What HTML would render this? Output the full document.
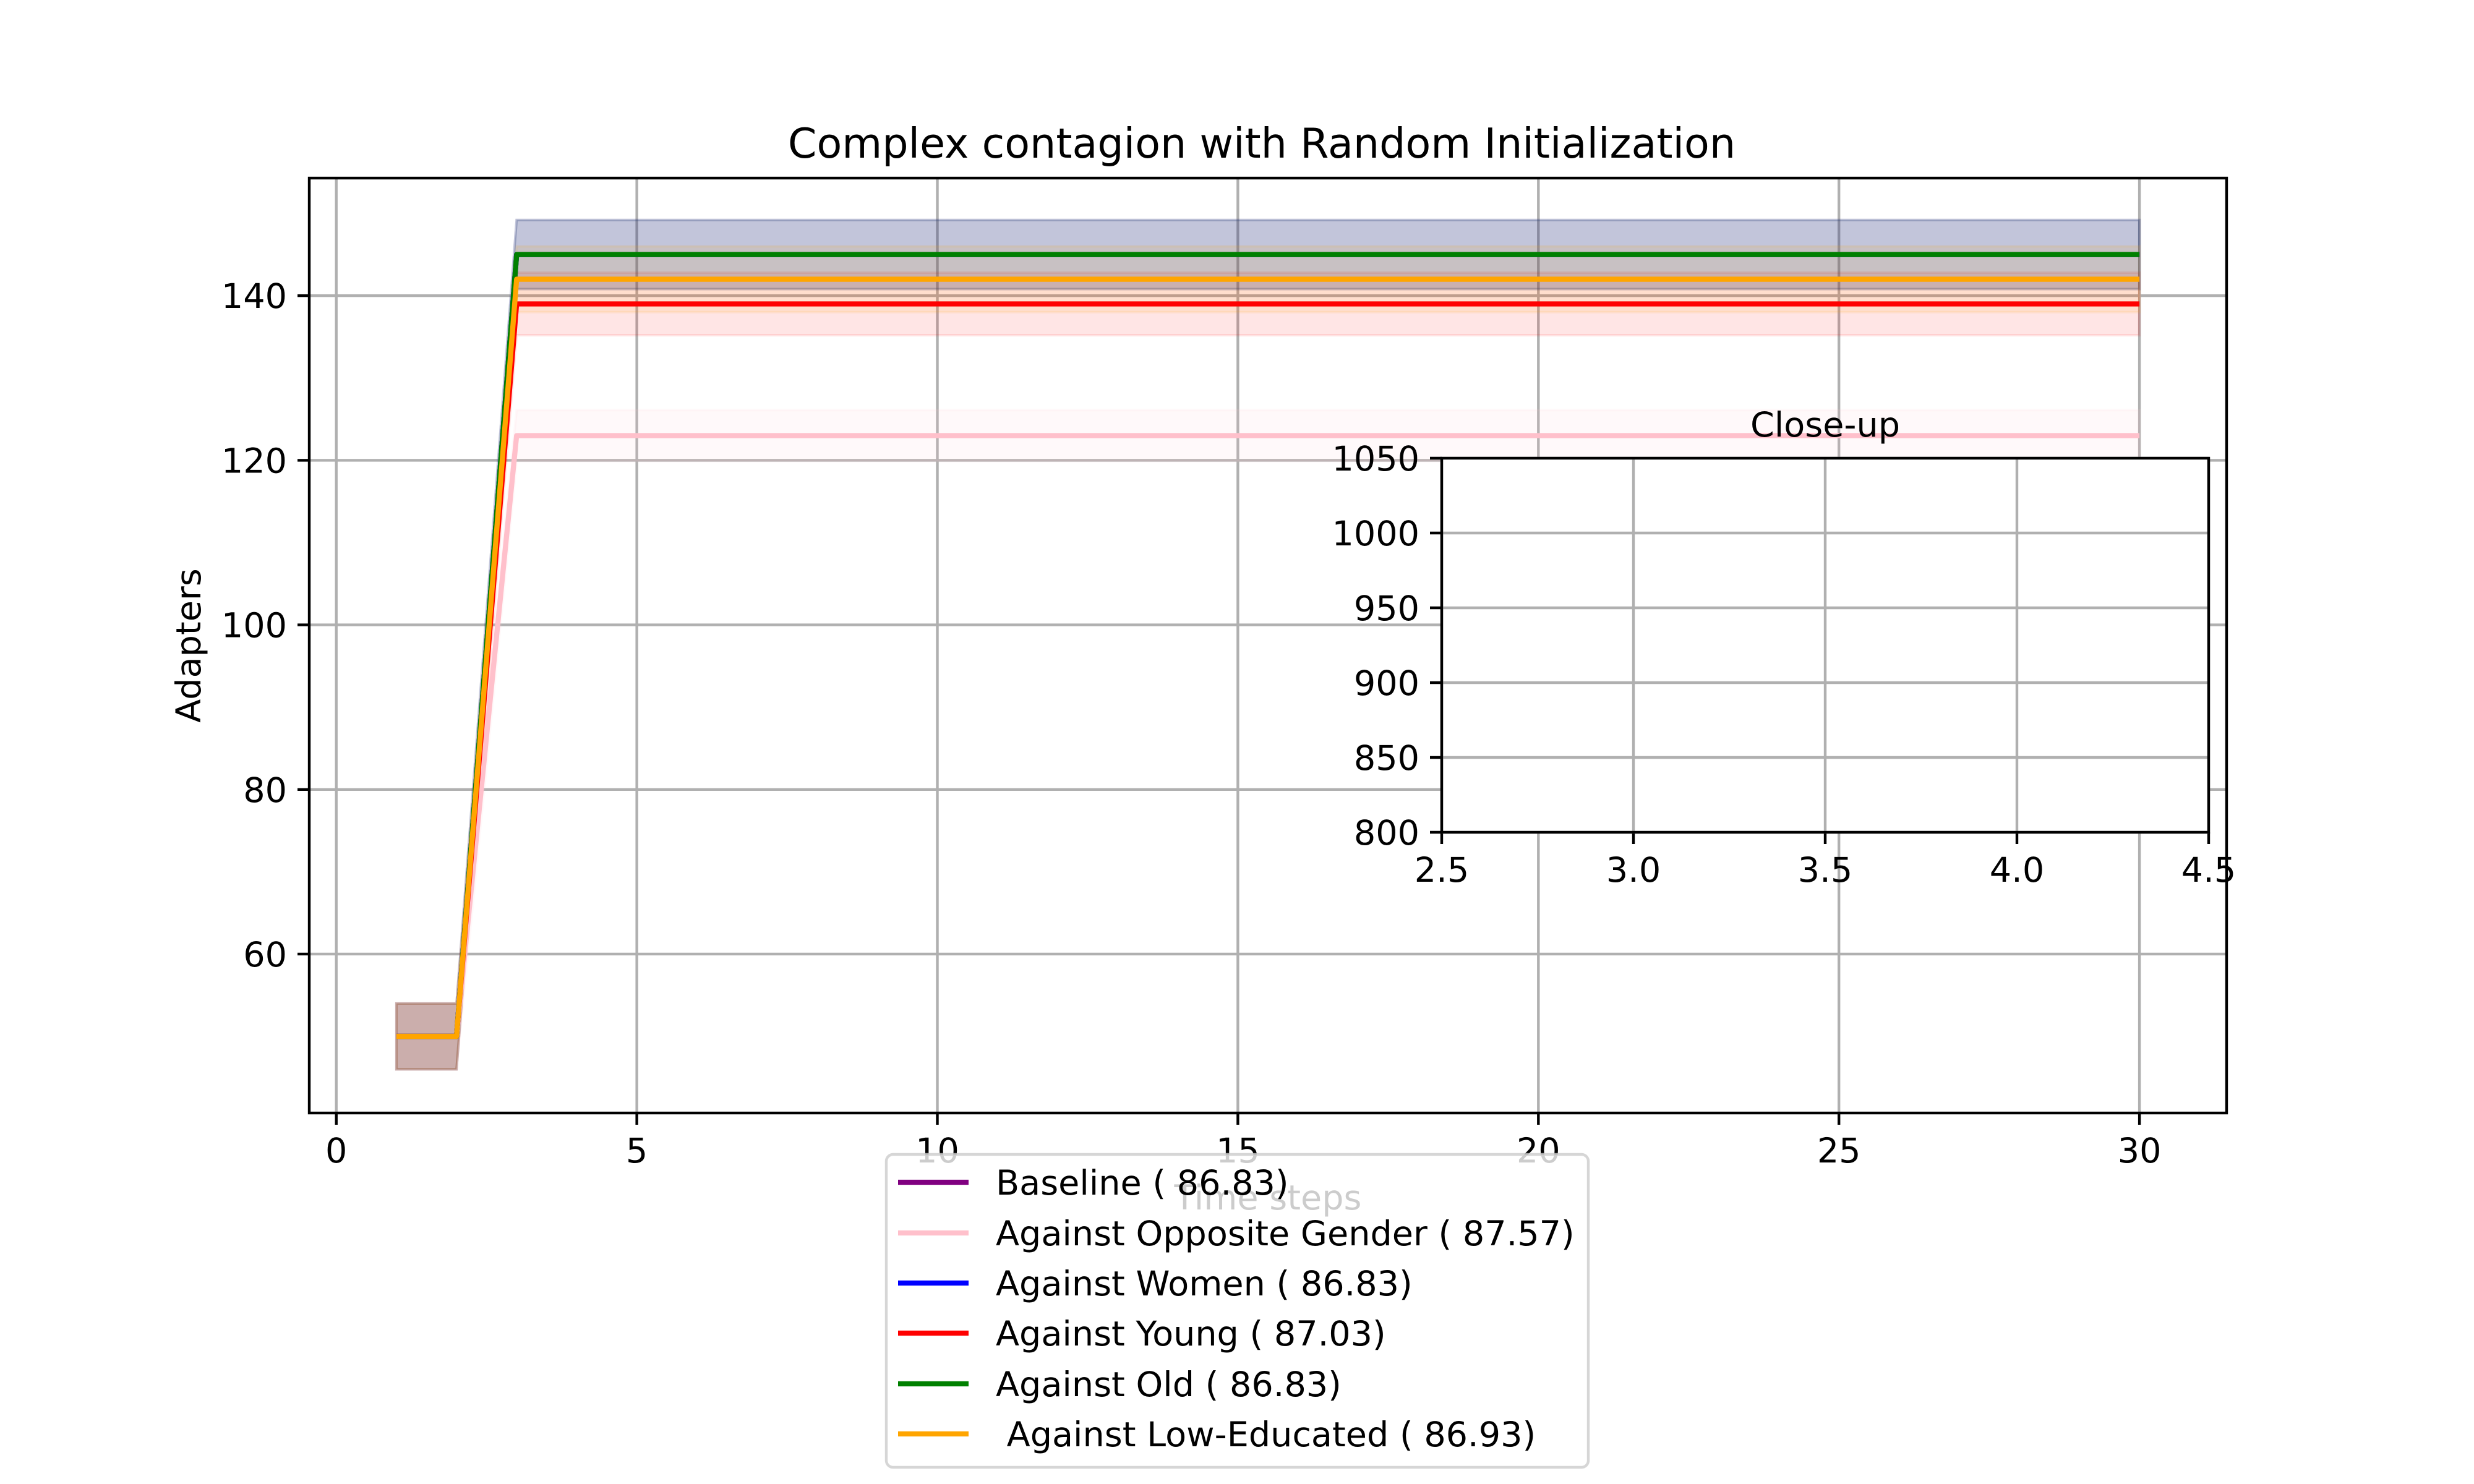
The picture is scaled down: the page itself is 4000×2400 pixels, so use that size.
<!DOCTYPE html>
<html><head><meta charset="utf-8"><style>
html,body{margin:0;padding:0;background:#fff}
svg{display:block;font-family:"DejaVu Sans","Liberation Sans",sans-serif}
</style></head><body>
<svg id="chart" width="4000" height="2400" viewBox="0 0 4000 2400" xmlns="http://www.w3.org/2000/svg">
<rect width="4000" height="2400" fill="#fff"/>
<text x="2040" y="255" font-size="66.7" text-anchor="middle">Complex contagion with Random Initialization</text>
<text x="0" y="0" font-size="55.6" text-anchor="middle" transform="translate(324,1044) rotate(-90)">Adapters</text>
<text x="2050" y="1956" font-size="55.6" text-anchor="middle">Time steps</text>
<g id="main"></g>
<g id="inset"></g>
<g id="legend"></g>
</svg>
<script>
const steps = [1,2,3,4,5,6,7,8,9,10,11,12,13,14,15,16,17,18,19,20,21,22,23,24,25,26,27,28,29,30];
const seriesNames = ["Baseline ( 86.83)","Against Opposite Gender ( 87.57)","Against Women ( 86.83)","Against Young ( 87.03)","Against Old ( 86.83)","\u00a0Against Low-Educated ( 86.93)"];
const seriesColors = ["#800080","#ffc0cb","#0000ff","#ff0000","#008000","#ffa500"];
const baselineMean = [50,50,145,145,145,145,145,145,145,145,145,145,145,145,145,145,145,145,145,145,145,145,145,145,145,145,145,145,145,145];
const oppositeMean = [50,50,123,123,123,123,123,123,123,123,123,123,123,123,123,123,123,123,123,123,123,123,123,123,123,123,123,123,123,123];
const womenMean = [50,50,145,145,145,145,145,145,145,145,145,145,145,145,145,145,145,145,145,145,145,145,145,145,145,145,145,145,145,145];
const youngMean = [50,50,139,139,139,139,139,139,139,139,139,139,139,139,139,139,139,139,139,139,139,139,139,139,139,139,139,139,139,139];
const oldMean = [50,50,145,145,145,145,145,145,145,145,145,145,145,145,145,145,145,145,145,145,145,145,145,145,145,145,145,145,145,145];
const lowEduMean = [50,50,142,142,142,142,142,142,142,142,142,142,142,142,142,142,142,142,142,142,142,142,142,142,142,142,142,142,142,142];
const baselineSd = [4,4,4.2,4.2,4.2,4.2,4.2,4.2,4.2,4.2,4.2,4.2,4.2,4.2,4.2,4.2,4.2,4.2,4.2,4.2,4.2,4.2,4.2,4.2,4.2,4.2,4.2,4.2,4.2,4.2];
const oppositeSd = [4,4,3.1,3.1,3.1,3.1,3.1,3.1,3.1,3.1,3.1,3.1,3.1,3.1,3.1,3.1,3.1,3.1,3.1,3.1,3.1,3.1,3.1,3.1,3.1,3.1,3.1,3.1,3.1,3.1];
const womenSd = [4,4,4.2,4.2,4.2,4.2,4.2,4.2,4.2,4.2,4.2,4.2,4.2,4.2,4.2,4.2,4.2,4.2,4.2,4.2,4.2,4.2,4.2,4.2,4.2,4.2,4.2,4.2,4.2,4.2];
const youngSd = [4,4,3.8,3.8,3.8,3.8,3.8,3.8,3.8,3.8,3.8,3.8,3.8,3.8,3.8,3.8,3.8,3.8,3.8,3.8,3.8,3.8,3.8,3.8,3.8,3.8,3.8,3.8,3.8,3.8];
const oldSd = [4,4,4.2,4.2,4.2,4.2,4.2,4.2,4.2,4.2,4.2,4.2,4.2,4.2,4.2,4.2,4.2,4.2,4.2,4.2,4.2,4.2,4.2,4.2,4.2,4.2,4.2,4.2,4.2,4.2];
const lowEduSd = [4,4,4,4,4,4,4,4,4,4,4,4,4,4,4,4,4,4,4,4,4,4,4,4,4,4,4,4,4,4];
const xTicks = [0,5,10,15,20,25,30];
const yTicks = [60,80,100,120,140];
const insetXTicks = ["2.5","3.0","3.5","4.0","4.5"];
const insetYTicks = [800,850,900,950,1000,1050];

const NS = "http://www.w3.org/2000/svg";
function mk(tag, attrs, parent){const e=document.createElementNS(NS,tag);for(const k in attrs)e.setAttribute(k,attrs[k]);parent.appendChild(e);return e;}

const L=500,R=3600,T=288,B=1800;
const xmin=-0.45,xmax=31.45,ymin=40.69,ymax=154.29;
const sx=v=>L+(v-xmin)/(xmax-xmin)*(R-L);
const sy=v=>B-(v-ymin)/(ymax-ymin)*(B-T);
const main=document.getElementById('main');
xTicks.forEach(t=>{
  const g=mk('line',{x1:sx(t),x2:sx(t),y1:T,y2:B,stroke:'#b0b0b0','stroke-width':4.4},main);
  
  
  const tk=mk('line',{x1:sx(t),x2:sx(t),y1:B,y2:B+19,stroke:'#000','stroke-width':4.4},main);
  
  
  const lb=mk('text',{x:sx(t),y:B+80,'font-size':55.6,'text-anchor':'middle'},main);
  lb.textContent=t;
  
  
});
yTicks.forEach(t=>{
  const g=mk('line',{x1:L,x2:R,y1:sy(t),y2:sy(t),stroke:'#b0b0b0','stroke-width':4.4},main);
  
  
  const tk=mk('line',{x1:L-19,x2:L,y1:sy(t),y2:sy(t),stroke:'#000','stroke-width':4.4},main);
  
  
  const lb=mk('text',{x:L-36,y:sy(t)+20,'font-size':55.6,'text-anchor':'end'},main);
  lb.textContent=t;
  
  
});
const means=[baselineMean,oppositeMean,womenMean,youngMean,oldMean,lowEduMean];
const sds=[baselineSd,oppositeSd,womenSd,youngSd,oldSd,lowEduSd];
const keys=['baseline','opposite-gender','women','young','old','low-educated'];
means.forEach((m,i)=>{
  const sd=sds[i];
  let up=steps.map((x,j)=>sx(x)+','+sy(m[j]+sd[j]));
  let lo=steps.map((x,j)=>sx(x)+','+sy(m[j]-sd[j])).reverse();
  const band=mk('polygon',{points:up.concat(lo).join(' '),fill:seriesColors[i],'fill-opacity':0.1,stroke:seriesColors[i],'stroke-opacity':0.1,'stroke-width':4},main);
  
  
});
means.forEach((m,i)=>{
  const ln=mk('polyline',{points:steps.map((x,j)=>sx(x)+','+sy(m[j])).join(' '),fill:'none',stroke:seriesColors[i],'stroke-width':8.3,'stroke-linejoin':'round'},main);
  
  
});
const frame=mk('rect',{x:L,y:T,width:R-L,height:B-T,fill:'none',stroke:'#000','stroke-width':4.4},main);



const iL=2331,iR=3571,iT=741,iB=1346;
const inset=document.getElementById('inset');
const isx=v=>iL+(v-2.5)/2*(iR-iL);
const isy=v=>iB-(v-800)/250*(iB-iT);
const ibg=mk('rect',{x:iL,y:iT,width:iR-iL,height:iB-iT,fill:'#fff'},inset);


const it=mk('text',{x:(iL+iR)/2,y:iT-35,'font-size':55.6,'text-anchor':'middle'},inset);
it.textContent='Close-up';


insetXTicks.forEach(t=>{
  const v=parseFloat(t);
  const g=mk('line',{x1:isx(v),x2:isx(v),y1:iT,y2:iB,stroke:'#b0b0b0','stroke-width':4.4},inset);
  
  
  const tk=mk('line',{x1:isx(v),x2:isx(v),y1:iB,y2:iB+19,stroke:'#000','stroke-width':4.4},inset);
  
  
  const lb=mk('text',{x:isx(v),y:iB+80,'font-size':55.6,'text-anchor':'middle'},inset);
  lb.textContent=t;
  
  
});
insetYTicks.forEach(t=>{
  const g=mk('line',{x1:iL,x2:iR,y1:isy(t),y2:isy(t),stroke:'#b0b0b0','stroke-width':4.4},inset);
  
  
  const tk=mk('line',{x1:iL-19,x2:iL,y1:isy(t),y2:isy(t),stroke:'#000','stroke-width':4.4},inset);
  
  
  const lb=mk('text',{x:iL-36,y:isy(t)+20,'font-size':55.6,'text-anchor':'end'},inset);
  lb.textContent=t;
  
  
});
const iframe=mk('rect',{x:iL,y:iT,width:iR-iL,height:iB-iT,fill:'none',stroke:'#000','stroke-width':4.4},inset);



const lg=document.getElementById('legend');
const lbox=mk('rect',{x:1433,y:1867,width:1135,height:506,rx:11,fill:'#fff','fill-opacity':0.8,stroke:'#cccccc','stroke-opacity':0.8,'stroke-width':4.4},lg);


const rowY=[1912,1994,2075,2156,2238,2319];
seriesNames.forEach((n,i)=>{
  const h=mk('line',{x1:1452,x2:1566,y1:rowY[i],y2:rowY[i],stroke:seriesColors[i],'stroke-width':8.3},lg);
  
  
  const tx=mk('text',{x:1610,y:rowY[i]+20,'font-size':55.6},lg);
  tx.textContent=n;
  
  
});
</script>
</body></html>
